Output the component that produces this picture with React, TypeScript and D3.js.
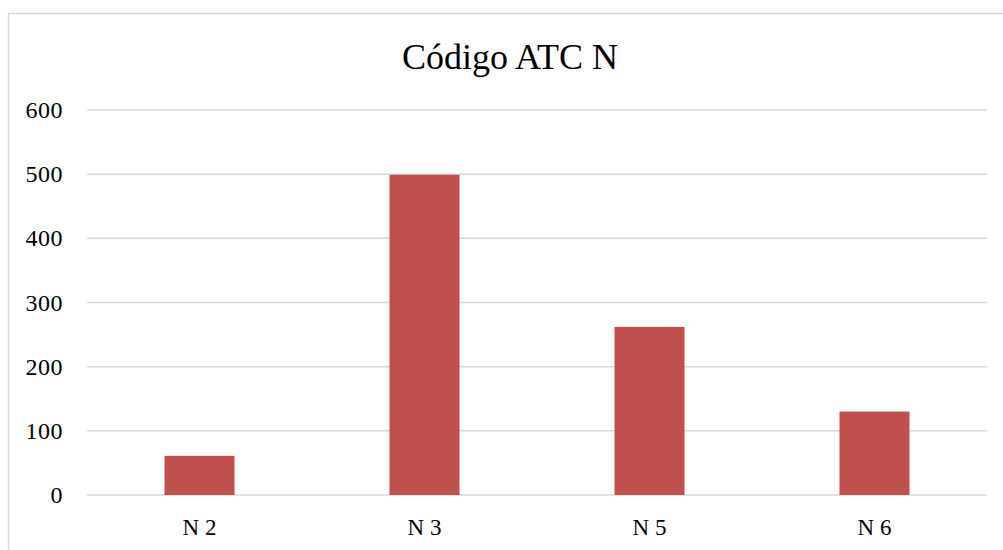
import React from "react";
import * as d3 from "d3";

const categories = ["N 2", "N 3", "N 5", "N 6"];
const values = [61, 499, 262, 130];
const yTicks = [0, 100, 200, 300, 400, 500, 600];
const title = "Código ATC N";

const W = 1003;
const H = 550;
const FONT = "'Liberation Serif', 'DejaVu Serif', serif";

export default function App() {
  const x = d3
    .scaleBand<string>()
    .domain(categories)
    .range([87, 987])
    .paddingInner(0.689)
    .paddingOuter(0.3445);
  const y = d3.scaleLinear().domain([0, 600]).range([495, 110]);

  return (
    <svg
      width={W}
      height={H}
      style={{ position: "absolute", left: 0, top: 0, background: "#fff" }}
    >
      <rect x={0} y={0} width={W} height={H} fill="#fff" />
      <path
        d={`M8.5,${H} L8.5,13.5 L${W},13.5`}
        fill="none"
        stroke="#d9d9d9"
        strokeWidth={1.5}
      />
      <text
        x={510}
        y={69}
        textAnchor="middle"
        fontFamily={FONT}
        fontSize={36}
        fill="#000"
      >
        {title}
      </text>
      {yTicks.map((t) => (
        <g key={t}>
          <line
            x1={87}
            x2={987}
            y1={y(t)}
            y2={y(t)}
            stroke="#d9d9d9"
            strokeWidth={1.5}
          />
          <text
            x={63}
            y={y(t) + 8}
            textAnchor="end"
            fontFamily={FONT}
            fontSize={24}
            letterSpacing={0.5}
            fill="#000"
          >
            {t}
          </text>
        </g>
      ))}
      {categories.map((c, i) => (
        <g key={c}>
          <rect
            x={x(c)}
            y={y(values[i])}
            width={x.bandwidth()}
            height={y(0) - y(values[i])}
            fill="#c0504d"
          />
          <text
            x={(x(c) as number) + x.bandwidth() / 2}
            y={535}
            textAnchor="middle"
            fontFamily={FONT}
            fontSize={23}
            fill="#000"
          >
            {c}
          </text>
        </g>
      ))}
    </svg>
  );
}
